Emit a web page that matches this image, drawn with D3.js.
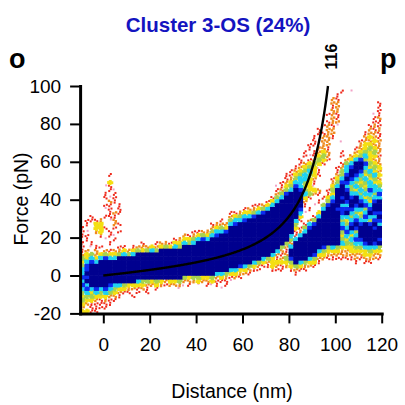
<!DOCTYPE html>
<html>
<head>
<meta charset="utf-8">
<script src="https://cdn.jsdelivr.net/npm/d3@7"></script>
<style>
  body { margin: 0; background: #fff; }
  svg { display: block; }
  text { font-family: "Liberation Sans", Arial, sans-serif; }
</style>
</head>
<body>
<svg id="chart" width="405" height="405"></svg>
<script>
// ---- chart values ----------------------------------------------------------
const titleText = "Cluster 3-OS (24%)";
const xTicks = [0, 20, 40, 60, 80, 100, 120];
const yTicks = [-20, 0, 20, 40, 60, 80, 100];
const xDomain = [-10, 120];
const yDomain = [-20, 100];

// worm-like-chain fit: contour length (nm) shown on the curve, persistence length (nm), kT (pN nm)
const contourLength = 116;
const persistenceLength = 0.4;
const kT = 4.1;

// density grid: 2 nm x 2 pN bins, column 0 starts at -10 nm, row 0 starts at 100 pN (top)
const binNm = 2, binPn = 2;
// density classes: p = single trace, 1 = red ... 7 = densest (navy)
const levelColors = {
  p: "#f2a2c6", 1: "#ee2a1c", 2: "#ef8a1e", 3: "#f4df12",
  4: "#a7d24f", 5: "#1ed2f2", 6: "#0c2cf0", 7: "#00008f"
};

// long runs of the densest class: [row, firstCol, lastCol]
const coreSpans = [
  [34, 38, 46], [35, 36, 45], [36, 34, 45], [37, 32, 45], [38, 32, 45],
  [39, 30, 44], [40, 28, 44], [41, 25, 43], [42, 22, 42], [43, 17, 41],
  [44, 12, 40], [45, 8, 38], [46, 4, 36], [47, 2, 33], [48, 2, 31],
  [49, 2, 28], [50, 2, 21], [51, 2, 11], [52, 2, 5]
];

// all other bins: [row, startCol, classes] ('.' = empty bin)
const cellRuns = [
  [1, 56, "1.p"], [2, 55, "1"], [3, 54, "21"],
  [4, 54, "22"], [4, 64, "1"], [5, 54, "12"], [5, 64, "1"],
  [6, 54, "22"], [6, 64, "1"], [7, 53, "121"], [7, 63, "p1"],
  [8, 54, "21"], [8, 63, "12"], [9, 53, "122"], [9, 63, "11"],
  [10, 52, "121p"], [10, 62, "121"], [11, 51, "1.22"], [11, 62, "212"],
  [12, 51, "1122"], [12, 61, "1221"], [13, 50, "1.221"], [13, 61, "2321"],
  [14, 50, "1p22..p"], [14, 60, "12232"], [15, 49, "11.22"], [15, 60, "23322"],
  [16, 49, "1.221"], [16, 59, "123432"],
  [17, 48, "1.1232..1"], [17, 59, "234342"],
  [18, 48, "1p1342..1"], [18, 58, "2345331"],
  [19, 47, "1.12431"], [19, 57, "23564322"],
  [20, 47, "123431...145776432"],
  [21, 46, "12343p...1256775343"],
  [22, 45, "1234531...1457764532"],
  [23, 6, "1"], [23, 44, "11345431...2467653453"],
  [24, 44, "1245532...13576545342"],
  [25, 6, "3"], [25, 43, "12355431...24665434533"],
  [26, 5, "p1"], [26, 42, "p1346533p...35754543554"],
  [27, 6, "1p"], [27, 42, "1245764332.147764354655"],
  [28, 5, "1.1"], [28, 42, "2467775421.137775545546"],
  [29, 5, "1p1"], [29, 41, "145777731..1357676753455"],
  [30, 6, "21"], [30, 40, "135777772..1.467767765367"],
  [31, 5, "11.1"], [31, 37, "112357777771.p.4677557676577"],
  [32, 5, "p1.1"], [32, 35, "1223457777776.1..5776666554677"],
  [33, 6, "121"], [33, 32, "1123345677777775p..37777675435766"],
  [34, 2, "1..111"], [34, 32, "234556"], [34, 47, "3..157777554546557"],
  [35, 1, "1112.p2"], [35, 30, "1.4556"], [35, 46, "51.2477777435655466"],
  [36, 0, "p1.33..21"], [36, 28, "122256"], [36, 46, "4.15677777546767675"],
  [37, 0, "1..331.1"], [37, 28, "2343"], [37, 46, "3146777777657677767"],
  [38, 0, "1p.23.1.1"], [38, 24, "11224556"], [38, 46, "1257777777465477777"],
  [39, 0, "11..1.1p"], [39, 22, "21234356"], [39, 45, "51577777777353577777"],
  [40, 1, "1...p.1"], [40, 20, "12334565"], [40, 45, "45777777777435667776"],
  [41, 0, "1.1...1"], [41, 13, "1..122133545"], [41, 44, "427777777777544556767"],
  [42, 0, "1.p11...11.12223234354"], [42, 43, "4257777776454333445554"],
  [43, 0, "12.2.212232343454"], [43, 42, "52177777754333223333433"],
  [44, 0, "234234334545"], [44, 41, "521277777633222222223322"],
  [45, 0, "43535655"], [45, 39, "54312467775422111111212221"],
  [46, 0, "3565"], [46, 37, "543233334754331.......1.11"],
  [47, 0, "46"], [47, 34, "65432113212343221"],
  [48, 0, "56"], [48, 32, "5533211..111.1211"],
  [49, 0, "57"], [49, 29, "55433221.........1"],
  [50, 0, "66"], [50, 22, "4344334232121"],
  [51, 0, "57"], [51, 12, "54434323342223223111p"],
  [52, 0, "65"], [52, 6, "6554333322321222p1.p.1p1.1"],
  [53, 0, "565656543322121.1....p"], [53, 30, "p"],
  [54, 0, "45354543211.1.1"],
  [55, 0, "344333221..1"],
  [56, 0, "43321211"],
  [57, 0, "3211111"],
  [58, 0, "2.1111"],
  [59, 0, "3311"]
];

// ---- layout ----------------------------------------------------------------
const svg = d3.select("#chart");
const x = d3.scaleLinear().domain(xDomain).range([80.1, 381.7]);
const y = d3.scaleLinear().domain(yDomain).range([313.4, 86]);

// expand runs into individual bins
const bins = [];
coreSpans.forEach(([row, c0, c1]) => {
  for (let c = c0; c <= c1; c++) bins.push({ row, col: c, level: "7" });
});
cellRuns.forEach(([row, c0, s]) => {
  [...s].forEach((ch, i) => { if (ch !== ".") bins.push({ row, col: c0 + i, level: ch }); });
});
const order = { p: 0, 1: 1, 2: 2, 3: 3, 4: 4, 5: 5, 6: 6, 7: 7 };
bins.sort((a, b) => order[a.level] - order[b.level]);

const cellBox = d => {
  const xa = x(xDomain[0] + d.col * binNm), xb = x(xDomain[0] + (d.col + 1) * binNm);
  const ya = y(yDomain[1] - d.row * binPn), yb = y(yDomain[1] - (d.row + 1) * binPn);
  return { x0: xa, y0: ya, w: xb - xa, h: yb - ya };
};

// speckle layouts inside a bin (fractions of the bin) used to texture the sparser classes
const speckle = [
  [[0.22, 0.30], [0.70, 0.68], [0.74, 0.20], [0.26, 0.80]],
  [[0.62, 0.22], [0.28, 0.72], [0.18, 0.20], [0.80, 0.76]],
  [[0.18, 0.62], [0.76, 0.34], [0.46, 0.14], [0.52, 0.86]],
  [[0.50, 0.18], [0.44, 0.78], [0.14, 0.46], [0.84, 0.52]]
];

svg.append("clipPath").attr("id", "plotClip").append("rect")
  .attr("x", x(xDomain[0])).attr("y", y(yDomain[1]) - 2)
  .attr("width", x(xDomain[1]) - x(xDomain[0]) + 2)
  .attr("height", y(yDomain[0]) - y(yDomain[1]) + 2);
const g = svg.append("g").attr("class", "density").attr("clip-path", "url(#plotClip)");

bins.forEach(d => {
  const b = cellBox(d);
  const col = levelColors[d.level];
  const lv = order[d.level];
  if (lv >= 6) {
    g.append("rect").attr("x", b.x0 - 0.3).attr("y", b.y0 - 0.3)
      .attr("width", b.w + 0.6).attr("height", b.h + 0.6).attr("fill", col);
  } else {
    const pat = speckle[(d.row * 5 + d.col * 3) % 4];
    const n = lv >= 3 ? 4 : (lv === 0 ? 1 : 2);
    const s = lv >= 3 ? 2.9 : (lv === 2 ? 2.4 : 2.0);
    for (let i = 0; i < n; i++) {
      g.append("rect")
        .attr("x", b.x0 + pat[i][0] * b.w - s / 2)
        .attr("y", b.y0 + pat[i][1] * b.h - s / 2)
        .attr("width", s).attr("height", s).attr("fill", col);
    }
  }
});

// ---- WLC fit curve -----------------------------------------------------------
const wlc = ext => {
  const r = ext / contourLength;
  return (kT / persistenceLength) * (1 / (4 * (1 - r) * (1 - r)) - 0.25 + r);
};
const curvePts = [];
for (let e = 0; e < contourLength; e += 0.25) {
  const f = wlc(e);
  if (f > yDomain[1]) {
    // finish exactly at the top of the force axis
    let lo = e - 0.25, hi = e;
    for (let k = 0; k < 30; k++) { const m = (lo + hi) / 2; if (wlc(m) > yDomain[1]) hi = m; else lo = m; }
    curvePts.push([lo, yDomain[1]]);
    break;
  }
  curvePts.push([e, f]);
}
svg.append("path").datum(curvePts)
  .attr("fill", "none").attr("stroke", "#000").attr("stroke-width", 2.4)
  .attr("d", d3.line().x(d => x(d[0])).y(d => y(d[1])));

// ---- axes --------------------------------------------------------------------
const plainNum = d => String(d);
const yAxis = svg.append("g").attr("transform", `translate(${x(xDomain[0])},0)`)
  .call(d3.axisLeft(y).tickValues(yTicks).tickFormat(plainNum)
    .tickSize(10).tickSizeOuter(0).tickPadding(9));
const xAxis = svg.append("g").attr("transform", `translate(0,${y(yDomain[0])})`)
  .call(d3.axisBottom(x).tickValues(xTicks).tickFormat(plainNum)
    .tickSize(10).tickSizeOuter(0).tickPadding(14));
[yAxis, xAxis].forEach(a => {
  a.select(".domain").attr("stroke", "#000").attr("stroke-width", 3).attr("stroke-linecap", "square");
  a.selectAll(".tick line").attr("stroke", "#000").attr("stroke-width", 2);
  a.selectAll(".tick text").attr("fill", "#000").style("font-size", "19px")
    .style("font-family", '"Liberation Sans", Arial, sans-serif');
});

// ---- labels ------------------------------------------------------------------
svg.append("text").attr("x", 218).attr("y", 32).attr("text-anchor", "middle")
  .attr("fill", "#1414c0").style("font-size", "20.5px").style("font-weight", "bold")
  .text(titleText);

svg.append("text").attr("x", 232).attr("y", 398).attr("text-anchor", "middle")
  .attr("fill", "#000").style("font-size", "19.5px").text("Distance (nm)");

svg.append("text").attr("transform", "translate(28,199) rotate(-90)")
  .attr("text-anchor", "middle").attr("fill", "#000").style("font-size", "19.5px")
  .text("Force (pN)");

svg.append("text").attr("transform", "translate(337,56.5) rotate(-90)")
  .attr("text-anchor", "middle").attr("fill", "#000")
  .style("font-size", "16px").style("font-weight", "bold").text(String(contourLength));

svg.append("text").attr("x", 9).attr("y", 68).attr("fill", "#000")
  .style("font-size", "27px").style("font-weight", "bold").text("o");
svg.append("text").attr("x", 380).attr("y", 68).attr("fill", "#000")
  .style("font-size", "27px").style("font-weight", "bold").text("p");
</script>
</body>
</html>
